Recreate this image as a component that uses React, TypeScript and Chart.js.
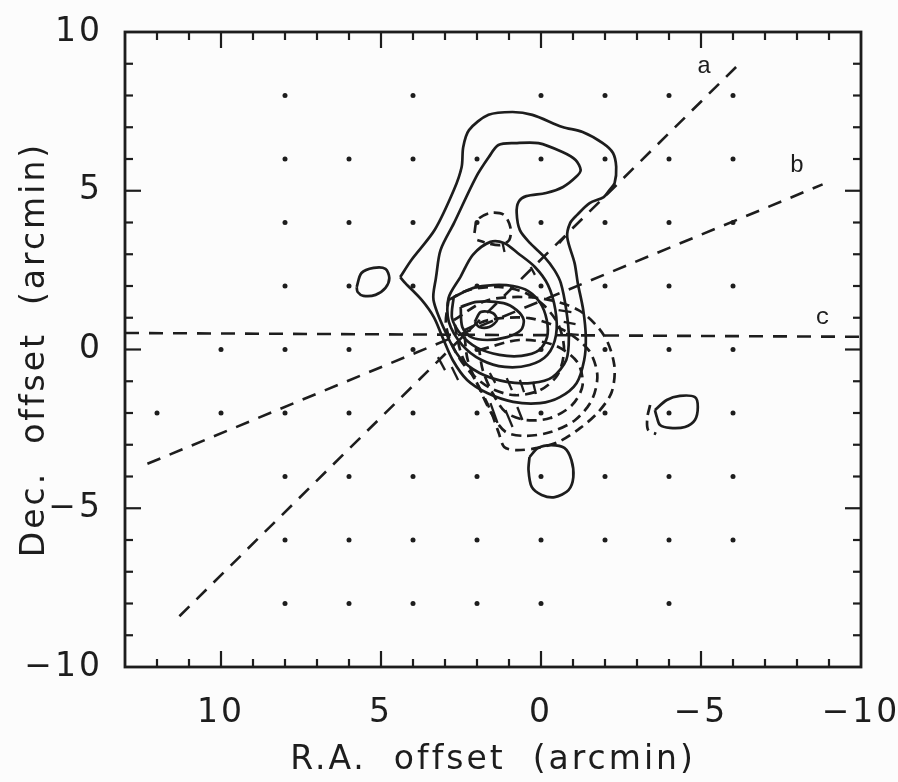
import React, { useEffect, useRef } from 'react';
import { Chart, registerables } from 'chart.js';
Chart.register(...registerables);

type P = [number, number];

const INK = '#1d1d1d';
const FONT = '"DejaVu Sans", "Liberation Sans", sans-serif';

// axis tick labels
const xTickValues = [10, 5, 0, -5, -10];
const yTickValues = [-10, -5, 0, 5, 10];

// observed grid positions: Dec. of each row and R.A. of the points in it (arcmin)
const dotRowDec = [8, 6, 4, 2, 0, -2, -4, -6, -8];
const dotRowRA: number[][] = [
  [8, 4, 0, -2, -4, -6],
  [8, 6, 4, 2, 0, -2, -4, -6],
  [8, 6, 4, 2, 0, -2, -4, -6],
  [8, 6, 4, 2, 0, -2, -4, -6],
  [10, 8, 6, 4, 2, 0, -2, -4, -6],
  [12, 10, 8, 6, 4, 2, 0, -2, -4, -6],
  [8, 6, 4, 2, 0, -2, -4, -6],
  [8, 6, 4, 2, 0, -2, -4, -6],
  [8, 6, 4, 2, 0, -4],
];

// solid contours (R.A., Dec.)
const solidOuter: P[] = [[4.40,2.28],[4.24,2.09],[3.73,1.56],[3.35,1.02],[3.08,0.39],[2.76,-0.33],[2.31,-0.96],[1.68,-1.37],[0.87,-1.65],[0.03,-1.69],[-0.59,-1.50],[-1.11,-1.06],[-1.35,-0.33],[-1.40,0.39],[-1.32,1.24],[-1.15,2.09],[-1.05,2.72],[-0.82,3.54],[-0.91,3.98],[-1.13,4.24],[-1.52,4.61],[-1.96,4.80],[-2.14,5.02],[-2.30,5.24],[-2.35,5.75],[-2.25,6.19],[-1.93,6.50],[-1.30,6.85],[-0.67,7.01],[0.27,7.39],[0.89,7.48],[1.64,7.39],[2.25,6.91],[2.43,6.38],[2.48,5.75],[2.72,5.03],[3.32,3.77],[4.05,2.82],[4.40,2.28]];
const solidHook: P[] = [[3.28,2.28],[3.14,3.13],[2.72,3.98],[2.03,5.43],[1.63,6.06],[1.33,6.44],[0.80,6.50],[0.08,6.50],[-0.67,6.22],[-1.08,5.97],[-1.24,5.65],[-1.09,5.43],[-0.69,5.12],[-0.16,4.93],[0.46,4.83],[0.70,4.65],[0.76,4.30],[0.66,3.76],[0.34,3.35],[-0.11,2.91],[-0.42,2.50],[-0.62,2.09],[-0.79,1.24],[-0.87,0.39],[-0.79,-0.33],[-0.36,-0.87],[0.26,-1.05],[1.07,-1.02],[1.92,-0.74],[2.55,-0.24],[2.97,0.52],[3.36,1.56],[3.28,2.28]];
const solidOval1: P[] = [[2.52,2.28],[2.13,2.98],[1.58,3.39],[1.14,3.35],[0.73,3.04],[0.19,2.60],[-0.22,2.03],[-0.45,1.24],[-0.47,0.46],[-0.20,-0.17],[0.36,-0.49],[1.13,-0.55],[1.86,-0.33],[2.46,0.14],[2.88,0.87],[2.89,1.62],[2.52,2.28]];
const solidOval2: P[] = [[2.73,1.65],[2.11,1.94],[1.49,2.03],[0.87,2.00],[0.40,1.84],[0.02,1.46],[-0.18,0.93],[-0.19,0.39],[0.06,-0.02],[0.61,-0.20],[1.30,-0.17],[1.99,0.05],[2.49,0.46],[2.78,0.99],[2.73,1.65]];
const solidCore: P[] = [[2.51,1.34],[2.01,1.50],[1.17,1.46],[0.76,1.24],[0.54,0.93],[0.63,0.61],[1.06,0.39],[1.68,0.30],[2.18,0.39],[2.46,0.71],[2.51,1.34]];
const solidPeak: P[] = [[2.07,0.87],[1.88,1.18],[1.51,1.15],[1.37,0.93],[1.62,0.71],[1.93,0.71],[2.07,0.87]];
const solidBlobWest: P[] = [[5.76,1.97],[5.61,2.41],[5.23,2.57],[4.86,2.54],[4.74,2.25],[4.86,1.94],[5.17,1.72],[5.55,1.69],[5.73,1.81],[5.76,1.97]];
const solidBlobSouth: P[] = [[0.36,-3.39],[0.09,-3.10],[-0.32,-3.01],[-0.73,-3.10],[-0.95,-3.48],[-1.01,-4.02],[-0.86,-4.43],[-0.43,-4.65],[-0.02,-4.58],[0.29,-4.33],[0.39,-3.80],[0.36,-3.39]];
const solidBlobEast: P[] = [[-3.56,-1.91],[-3.93,-1.59],[-4.34,-1.46],[-4.81,-1.50],[-4.90,-1.81],[-4.81,-2.22],[-4.50,-2.44],[-4.03,-2.47],[-3.72,-2.38],[-3.62,-2.13],[-3.56,-1.91]];

// dashed contours (R.A., Dec.)
const dashedNorth: P[] = [[2.08,3.67],[1.99,4.08],[1.59,4.30],[1.16,4.24],[0.96,3.86],[0.99,3.45],[1.27,3.29],[1.68,3.35],[1.99,3.45]];
const dashedCore: P[] = [[2.89,1.56],[2.27,1.87],[1.33,1.97],[0.55,1.81],[-0.08,1.40],[-0.55,0.77],[-0.72,-0.02],[-0.52,-0.80],[0.03,-1.28],[0.81,-1.44],[1.59,-1.21],[2.22,-0.71],[2.70,-0.02],[2.97,0.77],[2.89,1.56]];
const dashedMid: P[] = [[2.40,0.61],[1.63,0.93],[0.38,0.99],[-0.71,0.61],[-1.49,-0.02],[-1.76,-0.80],[-1.59,-1.59],[-1.07,-2.22],[-0.30,-2.60],[0.48,-2.72],[1.10,-2.60],[1.52,-2.06],[1.90,-1.28],[2.29,-0.33],[2.40,0.61]];
const dashedOuter: P[] = [[2.72,0.93],[1.64,1.56],[0.08,1.62],[-1.17,1.24],[-1.96,0.46],[-2.29,-0.49],[-2.21,-1.34],[-1.79,-1.97],[-1.23,-2.47],[-0.55,-2.91],[0.10,-3.10],[0.78,-3.17],[1.15,-3.07],[1.32,-2.63],[1.58,-1.91],[1.97,-1.12],[2.48,-0.17],[2.72,0.93]];
const dashedInner: P[] = [[1.93,-0.02],[0.68,0.30],[-0.41,0.14],[-1.13,-0.39],[-1.30,-1.12],[-0.97,-1.75],[-0.29,-2.16],[0.48,-2.22],[1.11,-1.97],[1.53,-1.34],[1.82,-0.65],[1.93,-0.02]];
const dashedEast: P[] = [[-3.41,-1.75],[-3.32,-2.16],[-3.35,-2.54],[-3.60,-2.66]];

// hachure ticks on the contours
const hachures: P[][] = [
  [[1.60,-0.74],[1.43,-1.05]], [[1.07,-0.90],[0.91,-1.28]], [[0.66,-0.96],[0.53,-1.34]],
  [[0.25,-1.02],[0.16,-1.40]], [[1.58,-1.69],[1.36,-2.31]], [[1.11,-1.91],[0.89,-2.44]],
  [[0.74,-1.81],[0.58,-2.22]], [[-0.55,1.24],[-0.95,1.18]], [[-0.71,0.87],[-1.08,0.80]],
  [[-0.78,0.49],[-1.18,0.46]], [[0.32,2.60],[0.19,2.35]], [[1.20,3.35],[1.14,3.07]],
  [[-0.57,3.35],[-0.76,3.57]], [[3.22,-0.24],[3.00,-0.65]], [[2.79,-0.55],[2.59,-0.96]],
];

// cut directions a, b, c
const cutA: P[] = [[11.3, -8.4], [-6.2, 9.0]];
const cutB: P[] = [[12.3, -3.6], [-8.8, 5.2]];
const cutC: P[] = [[13, 0.52], [-10, 0.4]];
const cutNames = ['a', 'b', 'c'];
const cutNamePos: P[] = [[-5.1, 8.9], [-8.0, 5.8], [-8.8, 1.0]];

const toXY = (pts: P[]) => pts.map(([x, y]) => ({ x, y }));

function lineSet(pts: P[], dash: number[], tension: number, width = 2.7) {
  return {
    data: toXY(pts),
    showLine: true,
    pointRadius: 0,
    borderColor: INK,
    borderWidth: width,
    borderDash: dash,
    tension,
    fill: false,
  };
}

const fmt = (v: number) => (v < 0 ? '\u2212' + Math.abs(v) : String(v));

const noScalePadding = (s: any) => {
  s.paddingLeft = 0;
  s.paddingRight = 0;
  s.paddingTop = 0;
  s.paddingBottom = 0;
};

export default function App() {
  const ref = useRef<HTMLCanvasElement>(null);
  useEffect(() => {
    const canvas = ref.current;
    if (!canvas) return;

    const dots: { x: number; y: number }[] = [];
    dotRowDec.forEach((dec, i) => dotRowRA[i].forEach((ra) => dots.push({ x: ra, y: dec })));

    const solids = [solidOuter, solidHook, solidOval1, solidOval2, solidCore, solidPeak, solidBlobWest, solidBlobSouth, solidBlobEast];
    const dashed = [dashedNorth, dashedCore, dashedMid, dashedOuter, dashedInner, dashedEast];

    const datasets: any[] = [
      { data: dots, showLine: false, pointRadius: 2.5, pointBackgroundColor: INK, pointBorderWidth: 0 },
      lineSet(cutA, [14, 10], 0, 2.6),
      lineSet(cutB, [14, 10], 0, 2.6),
      lineSet(cutC, [14, 10], 0, 2.6),
      ...solids.map((s) => lineSet(s, [], 0.3)),
      ...dashed.map((s) => lineSet(s, [10, 6], 0.3)),
      ...hachures.map((s) => lineSet(s, [], 0, 2.3)),
    ];

    const spacing = {
      id: 'spacing',
      beforeDraw(chart: any) {
        chart.ctx.letterSpacing = '3px';
      },
    };

    const frameTicks = {
      id: 'frameTicks',
      afterDraw(chart: any) {
        const { ctx, chartArea: a, scales } = chart;
        const xs = scales.x, ys = scales.y;
        ctx.save();
        ctx.letterSpacing = '0px';
        ctx.strokeStyle = INK;
        ctx.setLineDash([]);
        ctx.lineWidth = 2.8;
        ctx.strokeRect(a.left, a.top, a.right - a.left, a.bottom - a.top);
        ctx.lineWidth = 2.2;
        const seg = (x1: number, y1: number, x2: number, y2: number) => {
          ctx.beginPath(); ctx.moveTo(x1, y1); ctx.lineTo(x2, y2); ctx.stroke();
        };
        for (let v = Math.ceil(xs.min); v <= xs.max; v++) {
          const px = xs.getPixelForValue(v);
          if (px <= a.left + 1 || px >= a.right - 1) continue;
          const len = v % 5 === 0 ? 16 : 8;
          seg(px, a.bottom, px, a.bottom - len);
          seg(px, a.top, px, a.top + len);
        }
        for (let v = Math.ceil(ys.min); v <= ys.max; v++) {
          const py = ys.getPixelForValue(v);
          if (py <= a.top + 1 || py >= a.bottom - 1) continue;
          const len = v % 5 === 0 ? 16 : 8;
          seg(a.left, py, a.left + len, py);
          seg(a.right, py, a.right - len, py);
        }
        ctx.fillStyle = INK;
        ctx.font = '24px "Liberation Mono", "DejaVu Sans Mono", monospace';
        ctx.textAlign = 'center';
        ctx.textBaseline = 'middle';
        cutNames.forEach((t, i) => {
          ctx.fillText(t, xs.getPixelForValue(cutNamePos[i][0]), ys.getPixelForValue(cutNamePos[i][1]));
        });
        ctx.restore();
      },
    };

    const tickFont = { family: FONT, size: 33, weight: 'normal' as const };

    const chart = new Chart(canvas, {
      type: 'scatter',
      data: { datasets },
      options: {
        animation: false,
        responsive: false,
        maintainAspectRatio: false,
        layout: { padding: { top: 32, right: 37, bottom: 0, left: 0 } },
        plugins: { legend: { display: false }, tooltip: { enabled: false } },
        scales: {
          x: {
            type: 'linear',
            reverse: true,
            min: -10,
            max: 13,
            afterFit: (s: any) => { s.height = 115; noScalePadding(s); },
            grid: { display: false, drawTicks: false },
            border: { display: false },
            afterBuildTicks: (s: any) => { s.ticks = xTickValues.map((v) => ({ value: v })); },
            ticks: { stepSize: 5, includeBounds: false, padding: 27, font: tickFont, color: INK, maxRotation: 0, autoSkip: false, callback: (v: any) => fmt(Number(v)) },
            title: { display: true, text: 'R.A.  offset  (arcmin)', font: tickFont, color: INK, padding: { top: 0, bottom: 2 } },
          },
          y: {
            type: 'linear',
            min: -10,
            max: 10,
            afterFit: (s: any) => { s.width = 125; noScalePadding(s); },
            grid: { display: false, drawTicks: false },
            border: { display: false },
            afterBuildTicks: (s: any) => { s.ticks = yTickValues.map((v) => ({ value: v })); },
            ticks: { stepSize: 5, padding: 22, font: tickFont, color: INK, autoSkip: false, callback: (v: any) => fmt(Number(v)) },
            title: { display: true, text: 'Dec.  offset  (arcmin)', font: tickFont, color: INK, padding: { top: 16, bottom: 0 } },
          },
        },
      } as any,
      plugins: [spacing, frameTicks],
    });
    return () => chart.destroy();
  }, []);

  return (
    <div style={{ position: 'fixed', left: 0, top: 0, width: 898, height: 782, background: '#fcfcfc' }}>
      <canvas ref={ref} width={898} height={782} style={{ display: 'block', width: 898, height: 782 }} />
    </div>
  );
}
